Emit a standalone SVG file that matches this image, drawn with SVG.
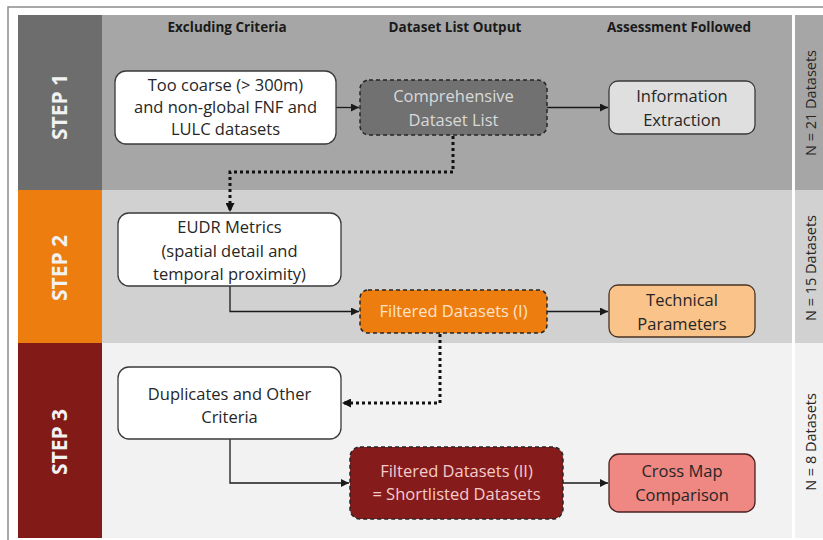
<svg xmlns="http://www.w3.org/2000/svg" width="823" height="540" viewBox="0 0 823 540">
<defs>
<marker id="ah" viewBox="0 0 10 10" refX="10" refY="5" markerWidth="9" markerHeight="8" markerUnits="userSpaceOnUse" orient="auto">
<path d="M0,0 L10,5 L0,10 z" fill="#1a1a1a"/>
</marker>
<marker id="ahd" viewBox="0 0 10 10" refX="10" refY="5" markerWidth="10" markerHeight="9" markerUnits="userSpaceOnUse" orient="auto">
<path d="M0,0 L10,5 L0,10 z" fill="#111"/>
</marker>
<style>
text{font-family:"Open Sans","Liberation Sans",sans-serif;}
.hdr{font-size:13.5px;font-weight:bold;fill:#1a1a1a;text-anchor:middle;}
.step{font-size:21px;font-weight:bold;fill:#f2f2f2;text-anchor:middle;}
.n{font-size:14.5px;fill:#262626;text-anchor:middle;}
.t{font-size:16.5px;fill:#262626;text-anchor:middle;}
.wbox{fill:#ffffff;stroke:#3a3a3a;stroke-width:1.3;}
.dbox{stroke:#262626;stroke-width:1.5;stroke-dasharray:4 3;}
.solid{fill:none;stroke:#1a1a1a;stroke-width:1.3;marker-end:url(#ah);}
.dot{fill:none;stroke:#111;stroke-width:3;stroke-dasharray:3 3;marker-end:url(#ahd);}
</style>
</defs>
<rect x="0" y="0" width="823" height="540" fill="#ffffff"/>
<path d="M8,540 V7 H823" fill="none" stroke="#8c8c8c" stroke-width="1.5"/>
<g id="bands">
<rect x="18" y="15" width="84" height="175" fill="#6d6d6d"/>
<rect x="102" y="15" width="690" height="175" fill="#a6a6a6"/>
<rect x="795" y="15" width="28" height="175" fill="#a6a6a6"/>
<rect x="18" y="190" width="84" height="153" fill="#ed7d0f"/>
<rect x="102" y="190" width="690" height="153" fill="#d1d1d1"/>
<rect x="795" y="190" width="28" height="153" fill="#d1d1d1"/>
<rect x="18" y="343" width="84" height="195" fill="#821a17"/>
<rect x="102" y="343" width="690" height="195" fill="#f2f2f2"/>
<rect x="795" y="343" width="28" height="195" fill="#f2f2f2"/>
</g>
<g id="headers">
<text class="hdr" x="227" y="32">Excluding Criteria</text>
<text class="hdr" x="455" y="32">Dataset List Output</text>
<text class="hdr" x="679" y="32">Assessment Followed</text>
</g>
<g id="step-labels">
<text class="step" transform="translate(67,107) rotate(-90)">STEP 1</text>
<text class="step" transform="translate(67,268) rotate(-90)">STEP 2</text>
<text class="step" transform="translate(67,442) rotate(-90)">STEP 3</text>
</g>
<g id="counts">
<text class="n" transform="translate(816,103) rotate(-90)">N = 21 Datasets</text>
<text class="n" transform="translate(816,268) rotate(-90)">N = 15 Datasets</text>
<text class="n" transform="translate(816,442) rotate(-90)">N = 8 Datasets</text>
</g>
<g id="connectors">
<path class="solid" d="M336,107.5 H359"/>
<path class="solid" d="M547,107.5 H608"/>
<path class="dot" d="M453,136 V172 H230 V212"/>
<path class="solid" d="M230,286 V311.5 H359"/>
<path class="solid" d="M547,311.5 H608"/>
<path class="dot" d="M440,334 V403 H342"/>
<path class="solid" d="M230,439 V483 H349"/>
<path class="solid" d="M563,483 H608"/>
</g>
<g id="n-too-coarse">
<rect class="wbox" x="115" y="71" width="221" height="73" rx="11"/>
<text class="t" x="225.5" y="91">Too coarse (&gt; 300m)</text>
<text class="t" x="225.5" y="113">and non-global FNF and</text>
<text class="t" x="225.5" y="135">LULC datasets</text>
</g>
<g id="n-comprehensive">
<rect class="dbox" x="360" y="80" width="187" height="55" rx="9" fill="#717171"/>
<text class="t" x="453.5" y="102" style="fill:#d9d9d9">Comprehensive</text>
<text class="t" x="453.5" y="126" style="fill:#d9d9d9">Dataset List</text>
</g>
<g id="n-information">
<rect x="609" y="81" width="146" height="53" rx="9" fill="#dfdfdf" stroke="#3a3a3a" stroke-width="1.3"/>
<text class="t" x="682" y="102">Information</text>
<text class="t" x="682" y="126">Extraction</text>
</g>
<g id="n-eudr">
<rect class="wbox" x="118" y="213" width="223" height="73" rx="11"/>
<text class="t" x="229.5" y="233">EUDR Metrics</text>
<text class="t" x="229.5" y="257">(spatial detail and</text>
<text class="t" x="229.5" y="280">temporal proximity)</text>
</g>
<g id="n-filtered-1">
<rect class="dbox" x="360" y="290" width="187" height="43" rx="8" fill="#ed7d0f"/>
<text class="t" x="453.5" y="317" style="fill:#fde3cc">Filtered Datasets (I)</text>
</g>
<g id="n-technical">
<rect x="609" y="285" width="146" height="52" rx="9" fill="#f9c38a" stroke="#4a3320" stroke-width="1.3"/>
<text class="t" x="682" y="306">Technical</text>
<text class="t" x="682" y="330">Parameters</text>
</g>
<g id="n-duplicates">
<rect class="wbox" x="118" y="367" width="223" height="72" rx="11"/>
<text class="t" x="229.5" y="400">Duplicates and Other</text>
<text class="t" x="229.5" y="423">Criteria</text>
</g>
<g id="n-filtered-2">
<rect class="dbox" x="350" y="447" width="213" height="72" rx="10" fill="#861b1b"/>
<text class="t" x="456.5" y="477" style="fill:#f4cccc">Filtered Datasets (II)</text>
<text class="t" x="456.5" y="500" style="fill:#f4cccc">= Shortlisted Datasets</text>
</g>
<g id="n-crossmap">
<rect x="609" y="454" width="146" height="58" rx="10" fill="#ef8782" stroke="#4a2020" stroke-width="1.3"/>
<text class="t" x="682" y="477">Cross Map</text>
<text class="t" x="682" y="501">Comparison</text>
</g>
</svg>
